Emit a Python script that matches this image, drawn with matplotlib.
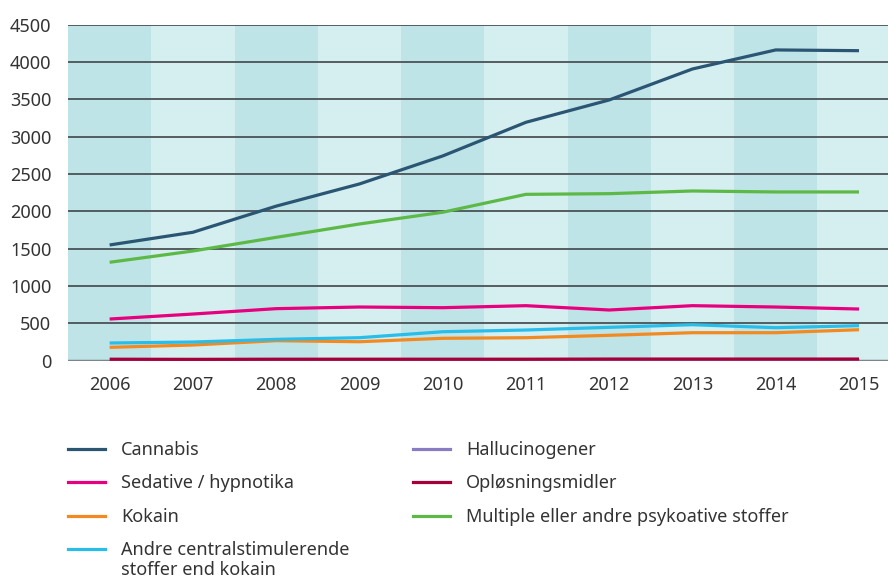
import numpy as np
import matplotlib.pyplot as plt
from matplotlib.lines import Line2D

plt.rcParams['font.family'] = ['Noto Sans', 'DejaVu Sans']

years = [2006, 2007, 2008, 2009, 2010, 2011, 2012, 2013, 2014, 2015]

cannabis = [1550, 1720, 2070, 2367, 2742, 3193, 3492, 3907, 4162, 4152]
sedative = [558, 625, 697, 719, 710, 737, 679, 737, 719, 692]
kokain = [179, 210, 268, 254, 300, 308, 340, 375, 375, 415]
andre = [237, 250, 286, 308, 388, 411, 447, 482, 442, 469]
halluc = [10, 10, 10, 10, 10, 10, 10, 10, 10, 10]
oplosning = [20, 18, 20, 20, 20, 20, 22, 22, 22, 22]
multiple = [1318, 1469, 1652, 1831, 1988, 2228, 2237, 2273, 2260, 2260]

labels = ['Cannabis', 'Sedative / hypnotika', 'Kokain',
          'Andre centralstimulerende\nstoffer end kokain',
          'Hallucinogener', 'Opl\u00f8sningsmidler',
          'Multiple eller andre psykoative stoffer']
colors = ['#2b5673', '#e6007e', '#f28a21', '#29bdea',
          '#8a7cc4', '#a5003a', '#5cb946']
series = [cannabis, sedative, kokain, andre, halluc, oplosning, multiple]

txt = '#333333'
fig = plt.figure(figsize=(8.88, 5.77), dpi=100)
ax = fig.add_axes([68 / 888, 1 - 360.7 / 577, 820 / 888, 336 / 577])

x0 = years[0] - 0.5
x1 = years[0] + (888 - 109) / 83.33
ax.set_xlim(x0, x1)
ax.set_ylim(0, 4500)

# alternating year bands
for i, yr in enumerate(years):
    c = '#bfe4e7' if i % 2 == 0 else '#d5eef0'
    ax.axvspan(yr - 0.5, yr + 0.5, color=c, lw=0, zorder=0)

for v in range(500, 4501, 500):
    ax.axhline(v, color='#4a5256', lw=1.3, zorder=1)
ax.axhline(0, color='#7d8587', lw=2.5, zorder=1)

# draw hallucinogener first so opløsningsmidler lies on top
order = [4, 5, 2, 3, 1, 6, 0]
for k in order:
    ax.plot(years, series[k], color=colors[k], lw=2.3, zorder=3,
            solid_joinstyle='round', solid_capstyle='butt')

for s in ax.spines.values():
    s.set_visible(False)
ax.set_xticks(years)
ax.set_yticks(range(0, 4501, 500))
ax.tick_params(length=0, labelsize=13, colors=txt)
ax.tick_params(axis='x', pad=11)
ax.tick_params(axis='y', pad=12)

# legend drawn by hand, two columns
col_x = [68, 413]
row_y = [449, 482, 516, 549]
for i, (lab, c) in enumerate(zip(labels, colors)):
    col = 0 if i < 4 else 1
    row = i if i < 4 else i - 4
    xh = col_x[col]
    yh = row_y[row]
    fig.add_artist(Line2D([xh / 888, (xh + 37) / 888],
                          [1 - yh / 577, 1 - yh / 577],
                          color=c, lw=2.3, transform=fig.transFigure))
    fig.text((xh + 53) / 888, 1 - (yh - 8) / 577, lab, fontsize=13,
             color=txt, va='top', ha='left', linespacing=1.12)

fig.savefig('out.png', dpi=100)
